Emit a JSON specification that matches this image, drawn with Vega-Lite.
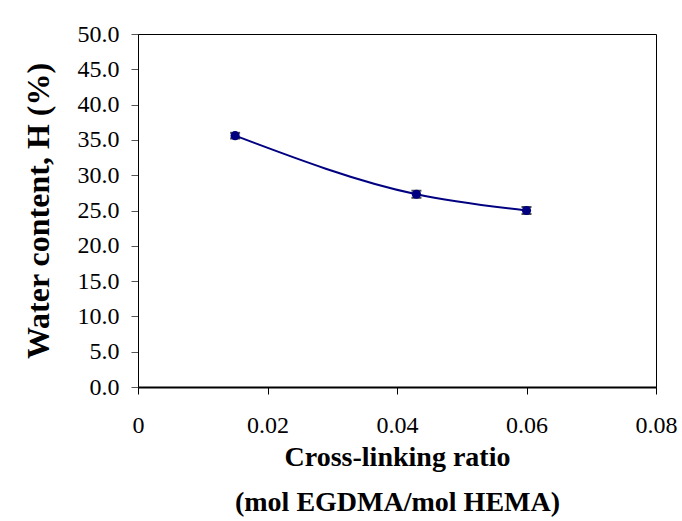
{
  "$schema": "https://vega.github.io/schema/vega-lite/v6.json",
  "width": 518,
  "height": 353,
  "autosize": {"type": "none"},
  "padding": {"left": 138, "top": 34, "right": 26, "bottom": 134},
  "background": "white",
  "config": {
    "view": {"stroke": "#000000", "strokeWidth": 1},
    "font": "Liberation Serif",
    "axis": {
      "grid": false,
      "labelOverlap": false,
      "domainColor": "#000000",
      "tickSize": 7,
      "labelFont": "Liberation Serif",
      "labelFontSize": 24,
      "labelColor": "#000000",
      "titleFont": "Liberation Serif",
      "titleFontWeight": "bold",
      "titleColor": "#000000"
    },
    "axisX": {
      "domainWidth": 2,
      "tickColor": "#000000",
      "labelPadding": 19,
      "labelFlush": false,
      "titleFontSize": 28,
      "titleLineHeight": 45,
      "titlePadding": 6
    },
    "axisY": {
      "domainWidth": 1,
      "tickColor": "#555555",
      "labelPadding": 12,
      "titleFontSize": 32,
      "titlePadding": 22
    }
  },
  "data": {
    "values": [
      {"ratio": 0.015, "H": 35.6, "err": 0.4},
      {"ratio": 0.043, "H": 27.3, "err": 0.5},
      {"ratio": 0.06, "H": 25.0, "err": 0.5}
    ]
  },
  "encoding": {
    "x": {
      "field": "ratio", "type": "quantitative",
      "scale": {"domain": [0, 0.08], "nice": false},
      "axis": {
        "values": [0, 0.02, 0.04, 0.06, 0.08],
        "format": "~g",
        "title": ["Cross-linking ratio", "(mol EGDMA/mol HEMA)"]
      }
    },
    "y": {
      "field": "H", "type": "quantitative",
      "scale": {"domain": [0, 50], "nice": false},
      "axis": {
        "values": [0, 5, 10, 15, 20, 25, 30, 35, 40, 45, 50],
        "format": ".1f",
        "title": "Water content, H (%)"
      }
    }
  },
  "layer": [
    {
      "mark": {"type": "line", "color": "#000080", "strokeWidth": 2, "interpolate": "monotone"}
    },
    {
      "mark": {"type": "errorbar", "color": "#000000", "ticks": {"size": 10, "thickness": 2}, "thickness": 1.5},
      "encoding": {
        "yError": {"field": "err"}
      }
    },
    {
      "mark": {"type": "point", "shape": "circle", "filled": true, "color": "#000080", "opacity": 1, "size": 85}
    }
  ]
}
